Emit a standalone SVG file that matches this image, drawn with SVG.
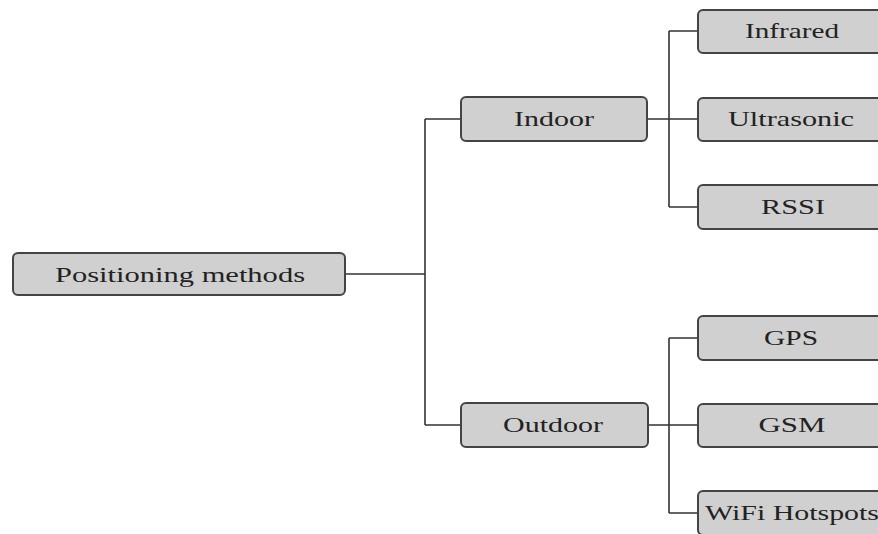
<svg xmlns="http://www.w3.org/2000/svg" width="878" height="534" viewBox="0 0 878 534">
  <style>
    .box { fill: #d0d0d0; stroke: #444; stroke-width: 2; }
    .lbl { font-family: "Liberation Serif", "Times New Roman", serif; font-size: 22px; fill: #222; text-anchor: middle; }
    .wire { fill: none; stroke: #333; stroke-width: 1.6; }
  </style>
  <rect width="878" height="534" fill="#fff"/>

  <g id="connectors">
    <path class="wire" d="M345 274 H425 M425 119 V425 M425 119 H461 M425 425 H461"/>
    <path class="wire" d="M647 119 H669 M669 31 V207 M669 31 H698 M669 119 H698 M669 207 H698"/>
    <path class="wire" d="M648 425 H669 M669 338 V513 M669 338 H698 M669 425 H698 M669 513 H698"/>
  </g>

  <g id="positioning-methods">
    <rect class="box" x="13" y="253" width="332" height="42" rx="5"/>
    <text class="lbl" x="180" y="282" textLength="250" lengthAdjust="spacingAndGlyphs">Positioning methods</text>
  </g>
  <g id="indoor">
    <rect class="box" x="461" y="97" width="186" height="44" rx="5"/>
    <text class="lbl" x="554" y="126" textLength="80" lengthAdjust="spacingAndGlyphs">Indoor</text>
  </g>
  <g id="outdoor">
    <rect class="box" x="461" y="403" width="187" height="44" rx="5"/>
    <text class="lbl" x="553" y="432" textLength="100" lengthAdjust="spacingAndGlyphs">Outdoor</text>
  </g>
  <g id="infrared">
    <rect class="box" x="698" y="10" width="188" height="43" rx="5"/>
    <text class="lbl" x="792" y="38" textLength="94" lengthAdjust="spacingAndGlyphs">Infrared</text>
  </g>
  <g id="ultrasonic">
    <rect class="box" x="698" y="98" width="188" height="43" rx="5"/>
    <text class="lbl" x="791" y="126" textLength="126" lengthAdjust="spacingAndGlyphs">Ultrasonic</text>
  </g>
  <g id="rssi">
    <rect class="box" x="698" y="185" width="188" height="44" rx="5"/>
    <text class="lbl" x="793" y="214" textLength="64" lengthAdjust="spacingAndGlyphs">RSSI</text>
  </g>
  <g id="gps">
    <rect class="box" x="698" y="316" width="188" height="44" rx="5"/>
    <text class="lbl" x="791" y="345" textLength="54" lengthAdjust="spacingAndGlyphs">GPS</text>
  </g>
  <g id="gsm">
    <rect class="box" x="698" y="404" width="188" height="43" rx="5"/>
    <text class="lbl" x="792" y="432" textLength="67" lengthAdjust="spacingAndGlyphs">GSM</text>
  </g>
  <g id="wifi-hotspots">
    <rect class="box" x="698" y="491" width="188" height="44" rx="5"/>
    <text class="lbl" x="792" y="520" textLength="174" lengthAdjust="spacingAndGlyphs">WiFi Hotspots</text>
  </g>
</svg>
